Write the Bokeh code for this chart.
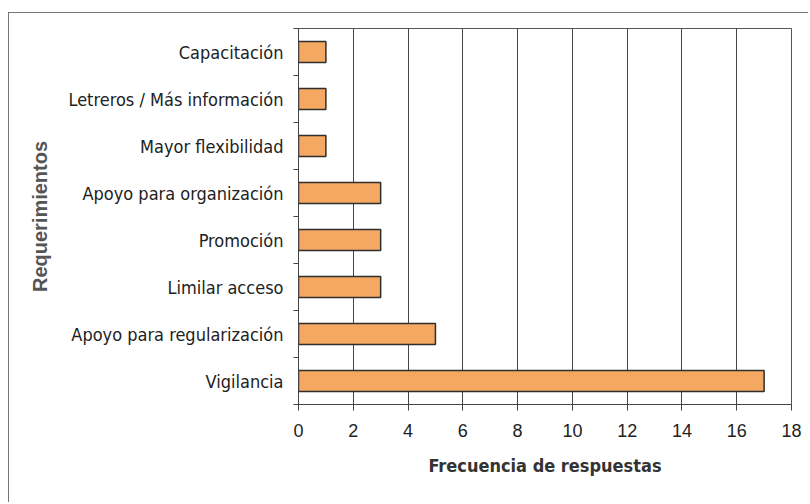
from bokeh.plotting import figure
from bokeh.models import FixedTicker, Range1d, ColumnDataSource
from bokeh.embed import file_html
from bokeh.resources import INLINE

categories = ["Vigilancia", "Apoyo para regularización", "Limilar acceso", "Promoción",
              "Apoyo para organización", "Mayor flexibilidad", "Letreros / Más información",
              "Capacitación"]
values = [17, 5, 3, 3, 3, 1, 1, 1]
x_ticks = [0, 2, 4, 6, 8, 10, 12, 14, 16, 18]

NARROW = "'Liberation Sans Narrow', 'Arial Narrow', 'DejaVu Sans Condensed', 'Roboto Condensed', 'Liberation Sans', sans-serif"

pos = list(range(len(categories)))
src = ColumnDataSource(dict(y=pos, v=values, cat=categories))

p = figure(width=800, height=490, output_backend="svg", toolbar_location=None,
           x_range=Range1d(0, 18), y_range=Range1d(-0.5, len(categories) - 0.5),
           min_border_left=289, min_border_right=18, min_border_top=15, min_border_bottom=99)
p.styles = {"border-left": "1px solid #777", "border-top": "1px solid #777",
            "margin-left": "8px", "margin-top": "12px"}

p.hbar(y="y", right="v", left=0, height=0.45, source=src,
       fill_color="#F4A862", line_color="#2e2e2e", line_width=1.5)

p.outline_line_color = "#555555"
p.outline_line_width = 1
p.ygrid.visible = False
p.xgrid.ticker = FixedTicker(ticks=x_ticks)
p.xgrid.grid_line_color = "#444444"
p.xgrid.grid_line_width = 1

p.xaxis.ticker = FixedTicker(ticks=x_ticks)
p.xaxis.major_tick_out = 6
p.xaxis.major_tick_in = 0
p.xaxis.minor_tick_line_color = None
p.xaxis.axis_line_color = "#444444"
p.xaxis.major_tick_line_color = "#444444"
p.xaxis.major_label_text_font = "Liberation Sans"
p.xaxis.major_label_text_font_size = "18px"
p.xaxis.major_label_text_color = "#222222"
p.xaxis.major_label_standoff = 13
p.xaxis.axis_label = "Frecuencia de respuestas"
p.xaxis.axis_label_text_font = NARROW
p.xaxis.axis_label_text_font_style = "bold"
p.xaxis.axis_label_text_font_size = "18px"
p.xaxis.axis_label_text_color = "#333333"
p.xaxis.axis_label_standoff = 15

boundaries = [i - 0.5 for i in range(len(categories) + 1)]
p.yaxis.ticker = FixedTicker(ticks=pos, minor_ticks=boundaries)
p.yaxis.major_label_overrides = {i: c for i, c in zip(pos, categories)}
p.yaxis.major_tick_line_color = None
p.yaxis.major_tick_out = 0
p.yaxis.minor_tick_out = 5
p.yaxis.minor_tick_in = 0
p.yaxis.minor_tick_line_color = "#444444"
p.yaxis.axis_line_color = "#444444"
p.yaxis.major_label_text_font = NARROW
p.yaxis.major_label_text_font_size = "18px"
p.yaxis.major_label_text_color = "#222222"
p.yaxis.major_label_standoff = 10
p.yaxis.axis_label = "Requerimientos"
p.yaxis.axis_label_text_font = "Liberation Sans"
p.yaxis.axis_label_text_font_style = "bold"
p.yaxis.axis_label_text_font_size = "20px"
p.yaxis.axis_label_text_color = "#555555"
p.yaxis.axis_label_standoff = 14

open("out.html", "w").write(file_html(p, INLINE))
